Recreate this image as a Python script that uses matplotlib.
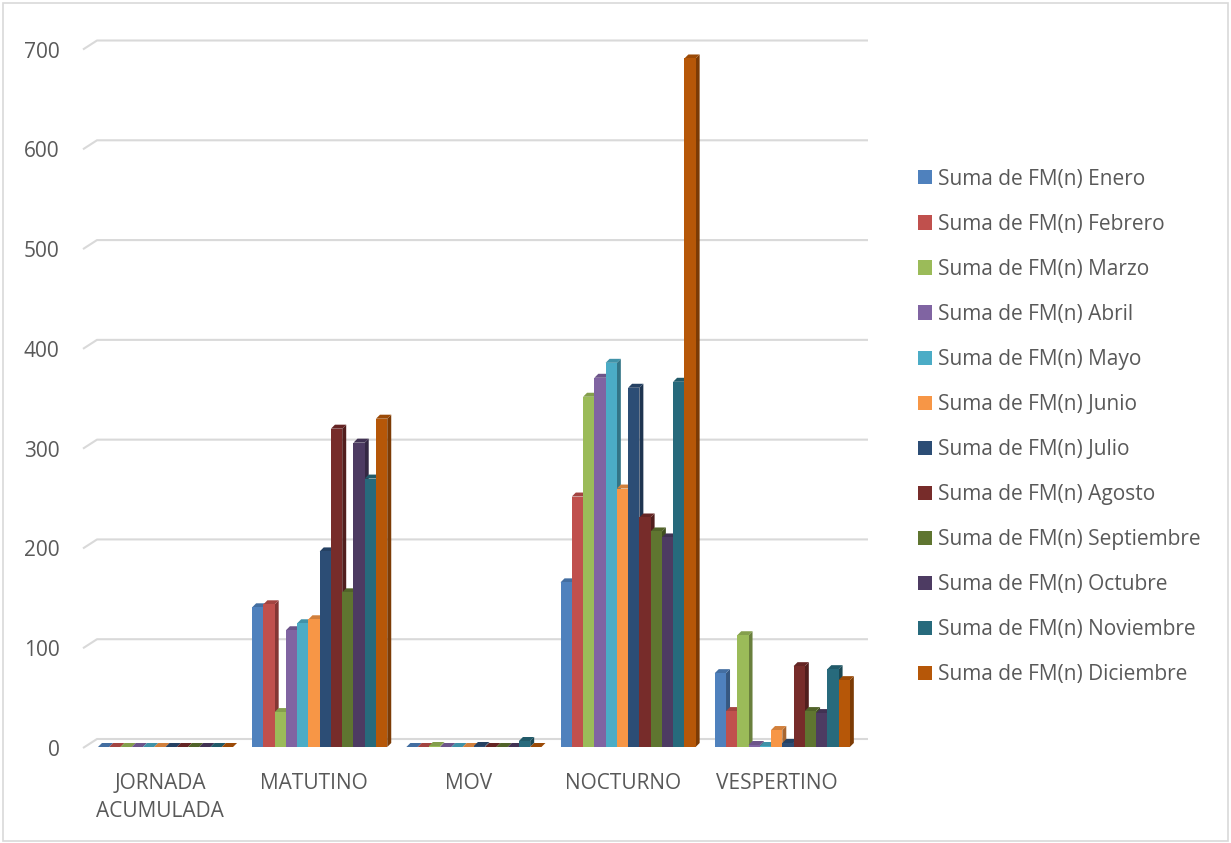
import matplotlib.pyplot as plt
import matplotlib.colors as mcolors
from matplotlib.patches import Rectangle, Polygon
import numpy as np

plt.rcParams['font.family'] = ['Open Sans', 'DejaVu Sans']

categories = ['JORNADA\nACUMULADA', 'MATUTINO', 'MOV', 'NOCTURNO', 'VESPERTINO']
months = ['Enero', 'Febrero', 'Marzo', 'Abril', 'Mayo', 'Junio', 'Julio',
          'Agosto', 'Septiembre', 'Octubre', 'Noviembre', 'Diciembre']

# one list per shift, values by month
jornada = [0, 0, 0, 0, 0, 0, 0, 0, 0, 0, 0, 0]
matutino = [140, 143, 35, 117, 124, 128, 196, 319, 155, 305, 269, 329]
mov = [0, 0, 1, 0, 0, 0, 1, 0, 0, 0, 6, 0]
nocturno = [165, 251, 351, 370, 385, 259, 360, 230, 216, 210, 366, 690]
vespertino = [74, 36, 112, 2, 1, 17, 4, 81, 36, 34, 78, 67]

yticks = [0, 100, 200, 300, 400, 500, 600, 700]

COLORS = ['#4F81BD', '#C0504D', '#9BBB59', '#8064A2', '#4BACC6', '#F79646',
          '#2C4D75', '#772C2A', '#5F7530', '#4D3B62', '#276A7C', '#B65708']
TEXT = '#595959'
GRID = '#D9D9D9'
FS = 15

data = np.array([jornada, matutino, mov, nocturno, vespertino])

W, H = 1231, 843
fig = plt.figure(figsize=(W / 100, H / 100), dpi=100)
fig.patches.append(Rectangle((3 / W, 2 / H), (W - 6) / W, (H - 5) / H,
                             transform=fig.transFigure, fill=False,
                             edgecolor=GRID, linewidth=1.2))

ax_l, ax_r, ax_b, ax_t = 83, 854, 748, 49.5
ax = fig.add_axes([ax_l / W, 1 - ax_b / H, (ax_r - ax_l) / W, (ax_b - ax_t) / H])
ax.set_xlim(-0.5, 4.5)
ax.set_ylim(0, 700)
for s in ax.spines.values():
    s.set_visible(False)

px_x = 5 / (ax_r - ax_l)            # data units per pixel
px_y = 700 / (ax_b - ax_t)

# back wall gridlines with the little side-wall slant at the left
gdx, gdy = 14 * px_x, 9 * px_y
for v in yticks:
    ax.plot([-0.5, -0.5 + gdx, 4.5 + gdx], [v, v + gdy, v + gdy],
            color=GRID, linewidth=1.5, clip_on=False, zorder=1,
            solid_capstyle='butt')

# 3D-look columns: front face, darker side, top
w = 0.073
dx, dy = 4 * px_x, 4 * px_y
base = 1 * px_y
x = np.arange(len(categories))
for j, month in enumerate(months):
    face = COLORS[j]
    rgb = np.array(mcolors.to_rgb(face))
    side = rgb * 0.68
    top = rgb * 0.85
    xs = x - 6 * w + 0.035 + j * w
    z = 3 + j * 0.01
    vals = data[:, j]
    ax.bar(xs, vals, width=w, bottom=base, align='edge', color=face, zorder=z,
           label='Suma de FM(n) ' + month, linewidth=0)
    for xi, v in zip(xs, vals):
        v = v + base
        ax.add_patch(Polygon([(xi + w, base), (xi + w + dx, base + dy), (xi + w + dx, v + dy), (xi + w, v)],
                             closed=True, facecolor=side, edgecolor='none',
                             zorder=z - 0.005, clip_on=False))
        ax.add_patch(Polygon([(xi, v), (xi + dx, v + dy), (xi + w + dx, v + dy), (xi + w, v)],
                             closed=True, facecolor=top, edgecolor='none',
                             zorder=z - 0.004, clip_on=False))

ax.set_xticks(x)
ax.set_xticklabels(categories, fontsize=FS, color=TEXT, linespacing=1.45)
ax.set_yticks(yticks)
ax.set_yticklabels([str(v) for v in yticks], fontsize=FS, color=TEXT)
ax.tick_params(axis='x', length=0, pad=18)
ax.tick_params(axis='y', length=0, pad=17)

fig.legend(loc='center left', bbox_to_anchor=(918 / W, 1 - 427 / H),
           frameon=False, fontsize=FS, labelcolor=TEXT,
           handlelength=0.67, handleheight=0.67, handletextpad=0.28,
           labelspacing=1.155, borderpad=0, borderaxespad=0)

fig.savefig('out.png', dpi=100)
